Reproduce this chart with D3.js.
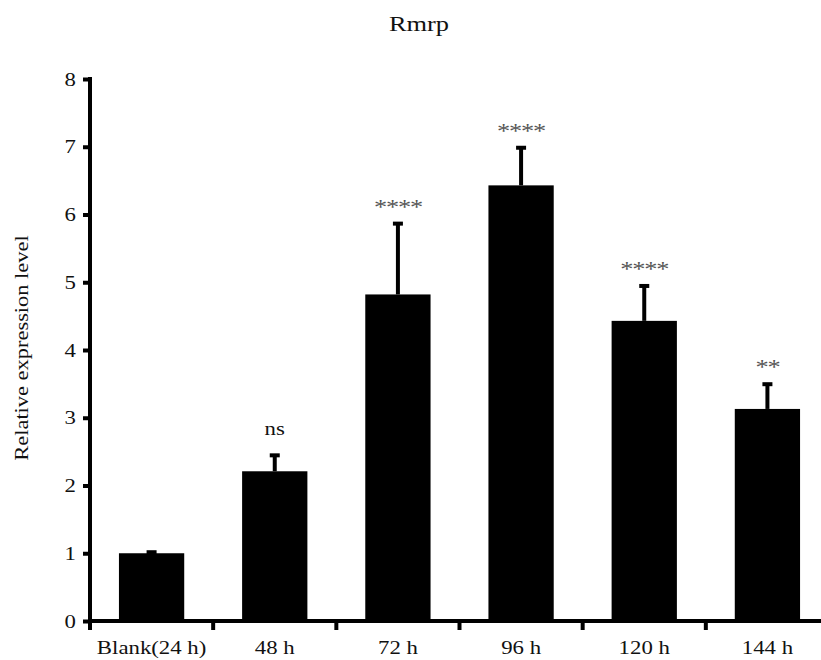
<!DOCTYPE html>
<html lang="en">
<head>
<meta charset="UTF-8">
<title>Rmrp</title>
<script src="https://d3js.org/d3.v7.min.js"></script>
<style>
  body { margin: 0; background: #fff; }
  svg text { font-family: "Liberation Serif", "Times New Roman", serif; fill: #111; }
</style>
</head>
<body>
<svg width="821" height="660"></svg>
<script>
// data
var groups = ["Blank(24 h)", "48 h", "72 h", "96 h", "120 h", "144 h"];
var means  = [1.0, 2.21, 4.82, 6.43, 4.43, 3.13];
var errors = [0.03, 0.25, 1.06, 0.57, 0.53, 0.38];
var marks  = ["", "ns", "****", "****", "****", "**"];
var yTicks = [0, 1, 2, 3, 4, 5, 6, 7, 8];

var svg = d3.select("svg");
var plotLeft = 90, plotRight = 829, plotTop = 79, plotBottom = 621;
var stretch = "scale(1.2,1)";   // the source font is wider than Times

var x = d3.scaleBand().domain(groups).range([plotLeft, plotRight]).padding(0);
var y = d3.scaleLinear().domain([0, 8]).range([plotBottom, plotTop]);
var barW = x.bandwidth() * 0.53;

var data = groups.map(function(g, i) {
    return {group: g, mean: means[i], err: errors[i], mark: marks[i]};
});

// bars
svg.selectAll("rect.bar")
    .data(data)
  .enter().append("rect")
    .attr("class", "bar")
    .attr("x", d => x(d.group) + (x.bandwidth() - barW) / 2)
    .attr("y", d => y(d.mean))
    .attr("width", barW)
    .attr("height", d => y(0) - y(d.mean))
    .attr("fill", "#000");

// error bars (upper only)
svg.selectAll("line.err")
    .data(data)
  .enter().append("line")
    .attr("class", "err")
    .attr("x1", d => x(d.group) + x.bandwidth() / 2)
    .attr("x2", d => x(d.group) + x.bandwidth() / 2)
    .attr("y1", d => y(d.mean))
    .attr("y2", d => y(d.mean + d.err))
    .attr("stroke", "#000")
    .attr("stroke-width", 4);

svg.selectAll("rect.cap")
    .data(data)
  .enter().append("rect")
    .attr("class", "cap")
    .attr("x", d => x(d.group) + x.bandwidth() / 2 - 5)
    .attr("y", d => y(d.mean + d.err) - 1)
    .attr("width", 10)
    .attr("height", 4)
    .attr("fill", "#000");

// significance labels
svg.selectAll("text.sig")
    .data(data.filter(d => d.mark))
  .enter().append("text")
    .attr("class", "sig")
    .attr("text-anchor", "middle")
    .attr("transform", function(d) {
        var cx = x(d.group) + x.bandwidth() / 2;
        var by = d.mark === "ns" ? y(d.mean + d.err) - 19 : y(d.mean + d.err) - 9;
        return "translate(" + cx + "," + by + ")" + stretch;
    })
    .style("font-size", d => d.mark === "ns" ? "19px" : "22px")
    .style("letter-spacing", d => d.mark === "ns" ? "0px" : "-1px")
    .style("fill", d => d.mark === "ns" ? "#111" : "#555")
    .text(d => d.mark);

// y axis
var yAxis = svg.append("g")
    .attr("transform", "translate(" + plotLeft + ",0)")
    .call(d3.axisLeft(y).tickValues(yTicks).tickSize(7).tickSizeOuter(0).tickPadding(9));
yAxis.select(".domain").attr("stroke", "#000").attr("stroke-width", 4)
    .attr("d", "M0," + (plotTop - 2) + "V" + (plotBottom + 9));
yAxis.selectAll(".tick line").attr("stroke", "#000").attr("stroke-width", 4);
yAxis.selectAll(".tick text")
    .attr("x", null).attr("dy", null)
    .attr("transform", "translate(-14,6)" + stretch)
    .style("font-size", "19px");

// x axis line, tick marks at band edges, labels under bands
svg.append("line")
    .attr("x1", plotLeft).attr("x2", plotRight)
    .attr("y1", y(0)).attr("y2", y(0))
    .attr("stroke", "#000").attr("stroke-width", 4);

svg.selectAll("line.xtick")
    .data(groups)
  .enter().append("line")
    .attr("class", "xtick")
    .attr("x1", d => x(d)).attr("x2", d => x(d))
    .attr("y1", y(0)).attr("y2", y(0) + 9)
    .attr("stroke", "#000").attr("stroke-width", 4);

svg.selectAll("text.xlab")
    .data(groups)
  .enter().append("text")
    .attr("class", "xlab")
    .attr("text-anchor", "middle")
    .attr("transform", d => "translate(" + (x(d) + x.bandwidth() / 2) + ",654)" + stretch)
    .style("font-size", "19px")
    .text(d => d);

// y axis title
svg.append("text")
    .attr("text-anchor", "middle")
    .attr("transform", "translate(28,348)rotate(-90)" + stretch)
    .style("font-size", "18.7px")
    .text("Relative expression level");

// chart title
svg.append("text")
    .attr("text-anchor", "middle")
    .attr("transform", "translate(419,31)" + stretch)
    .style("font-size", "22px")
    .text("Rmrp");
</script>
</body>
</html>
